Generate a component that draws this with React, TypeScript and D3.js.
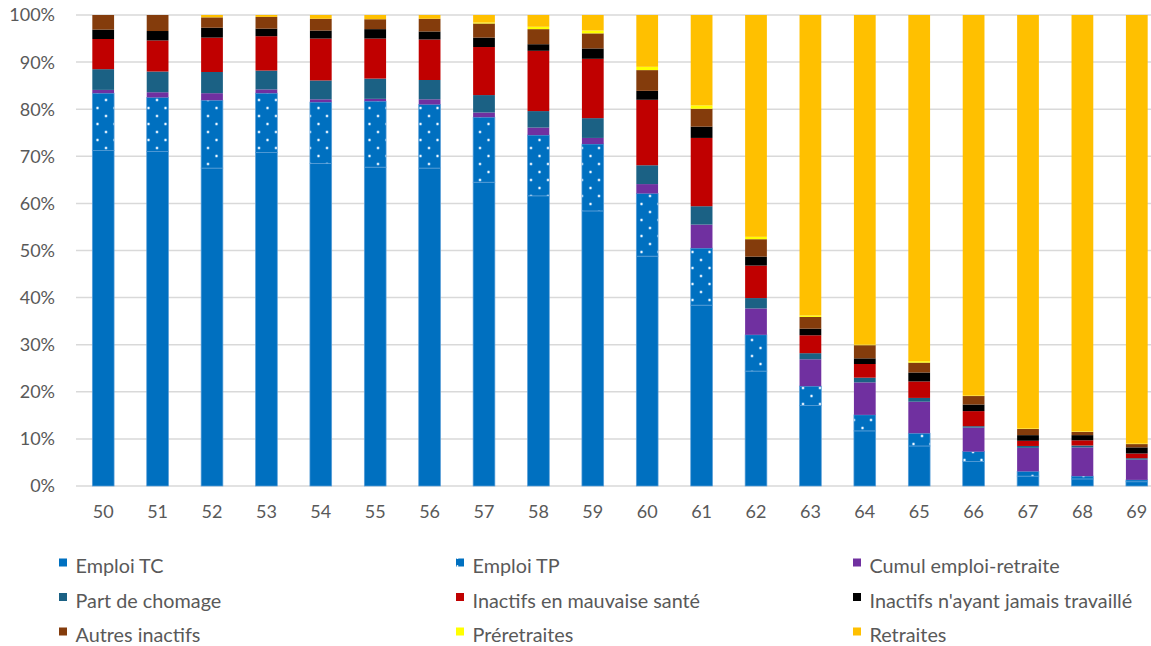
import React from "react";
import * as d3 from "d3";

// Age groups on the x axis
const ages = ["50", "51", "52", "53", "54", "55", "56", "57", "58", "59", "60", "61", "62", "63", "64", "65", "66", "67", "68", "69"];

// Share of each status per age (%)
const emploiTC = [71.2, 71.0, 67.5, 70.8, 68.5, 67.7, 67.5, 64.5, 61.6, 58.4, 48.8, 38.4, 24.4, 17.1, 11.7, 8.5, 5.2, 2.1, 1.5, 0.9];
const emploiTP = [12.2, 11.5, 14.4, 12.6, 13.0, 14.0, 13.5, 13.8, 12.9, 14.2, 13.3, 12.1, 7.7, 4.1, 3.4, 2.7, 2.1, 1.0, 0.6, 0.4];
const cumul = [0.7, 1.1, 1.5, 0.8, 0.6, 0.5, 1.1, 1.0, 1.6, 1.3, 2.0, 5.0, 5.6, 5.7, 6.9, 6.7, 5.1, 5.0, 6.1, 4.3];
const chomage = [4.4, 4.4, 4.5, 4.0, 4.0, 4.3, 4.1, 3.7, 3.5, 4.2, 4.0, 3.9, 2.2, 1.3, 1.0, 0.8, 0.3, 0.4, 0.4, 0.3];
const mauvaiseSante = [6.4, 6.6, 7.3, 7.3, 8.9, 8.5, 8.6, 10.2, 12.8, 12.6, 13.9, 14.5, 6.9, 3.8, 2.9, 3.5, 3.2, 1.1, 1.1, 1.0];
const jamaisTravaille = [2.0, 2.0, 2.1, 1.6, 1.7, 2.0, 1.7, 2.0, 1.4, 2.2, 1.9, 2.4, 1.9, 1.4, 1.2, 1.9, 1.4, 1.2, 1.1, 1.3];
const autresInactifs = [3.1, 3.4, 2.2, 2.5, 2.5, 2.1, 2.7, 3.0, 3.2, 3.2, 4.4, 3.8, 3.7, 2.5, 2.8, 2.1, 1.8, 1.3, 0.7, 0.7];
const preretraites = [0, 0, 0, 0, 0, 0, 0, 0.2, 0.5, 0.6, 0.7, 0.7, 0.5, 0.3, 0.1, 0.3, 0.1, 0.1, 0.1, 0.1];
const retraites = [0, 0, 0.5, 0.4, 0.8, 0.9, 0.8, 1.6, 2.5, 3.3, 11.0, 19.2, 47.1, 63.8, 70.0, 73.5, 80.8, 87.8, 88.4, 91.0];

const yTicks = [0, 0.1, 0.2, 0.3, 0.4, 0.5, 0.6, 0.7, 0.8, 0.9, 1];

const seriesNames = [
  "Emploi TC",
  "Emploi TP",
  "Cumul emploi-retraite",
  "Part de chomage",
  "Inactifs en mauvaise santé",
  "Inactifs n'ayant jamais travaillé",
  "Autres inactifs",
  "Préretraites",
  "Retraites",
];
const seriesValues = [emploiTC, emploiTP, cumul, chomage, mauvaiseSante, jamaisTravaille, autresInactifs, preretraites, retraites];
const seriesFills = [
  "#0070C0",
  "url(#dotsTP)",
  "#7030A0",
  "#1B6184",
  "#C00000",
  "#000000",
  "#843C0C",
  "#FFFF00",
  "#FFC000",
];

const W = 1151;
const H = 646;
const FONT = "Lato, 'Open Sans', sans-serif";
const TEXT = "#595959";

export default function App() {
  const rows = ages.map((age, i) => {
    const r: Record<string, any> = { age };
    seriesNames.forEach((n, k) => (r[n] = seriesValues[k][i]));
    return r;
  });

  const stacked = d3
    .stack<any>()
    .keys(seriesNames)
    .offset(d3.stackOffsetExpand)(rows);

  const x = d3.scaleBand<string>().domain(ages).range([76, 1164]).paddingInner(0.6).paddingOuter(0.3);
  const y = d3.scaleLinear().domain([0, 1]).range([486, 15]);
  const pct = d3.format(".0%");

  const legendCols = [59, 456, 853];
  const legendRows = [573, 607.5, 642];

  return (
    <svg
      width={W}
      height={H}
      style={{ position: "absolute", left: 0, top: 0, background: "#fff" }}
      fontFamily={FONT}
    >
      <defs>
        <pattern id="dotsTP" patternUnits="userSpaceOnUse" width={17} height={16}>
          <rect width={17} height={16} fill="#0070C0" />
          <circle cx={4} cy={4} r={1.7} fill="#5aa6e0" />
          <circle cx={4} cy={4} r={1} fill="#ffffff" />
          <circle cx={12.5} cy={12} r={1.7} fill="#5aa6e0" />
          <circle cx={12.5} cy={12} r={1} fill="#ffffff" />
        </pattern>
        <pattern id="dotsLegend" patternUnits="userSpaceOnUse" width={8} height={8}>
          <rect width={8} height={8} fill="#0070C0" />
          <circle cx={1.5} cy={6} r={0.9} fill="#ffffff" />
        </pattern>
      </defs>

      {/* horizontal gridlines */}
      {yTicks.map((t) => (
        <line key={t} x1={76} x2={1164} y1={y(t)} y2={y(t)} stroke="#d9d9d9" strokeWidth={1.5} />
      ))}

      {/* stacked bars */}
      {stacked.map((layer, k) => (
        <g key={layer.key}>
          {layer.map((d, i) => {
            const h = y(d[0]) - y(d[1]);
            if (h <= 0) return null;
            const blue = k < 2;
            return (
              <rect
                key={i}
                x={x(ages[i])}
                y={y(d[1])}
                width={x.bandwidth()}
                height={h}
                fill={seriesFills[k]}
                stroke={blue ? "#5b9fd8" : "none"}
                strokeWidth={blue ? 0.7 : 0}
              />
            );
          })}
        </g>
      ))}

      {/* y axis labels */}
      {yTicks.map((t) => (
        <text key={t} x={55} y={y(t)} dy="0.36em" textAnchor="end" fontSize={18} fill={TEXT}>
          {pct(t)}
        </text>
      ))}

      {/* x axis labels */}
      {ages.map((a) => (
        <text key={a} x={(x(a) as number) + x.bandwidth() / 2} y={518} textAnchor="middle" fontSize={18} fill={TEXT}>
          {a}
        </text>
      ))}

      {/* legend */}
      {seriesNames.map((n, k) => {
        const cx = legendCols[k % 3];
        const cy = legendRows[Math.floor(k / 3)];
        return (
          <g key={n}>
            <rect
              x={cx}
              y={cy - 14.5}
              width={8}
              height={8}
              fill={k === 1 ? "url(#dotsLegend)" : seriesFills[k]}
            />
            <text x={cx + 16.5} y={cy} fontSize={19.8} fill={TEXT}>
              {n}
            </text>
          </g>
        );
      })}
    </svg>
  );
}
